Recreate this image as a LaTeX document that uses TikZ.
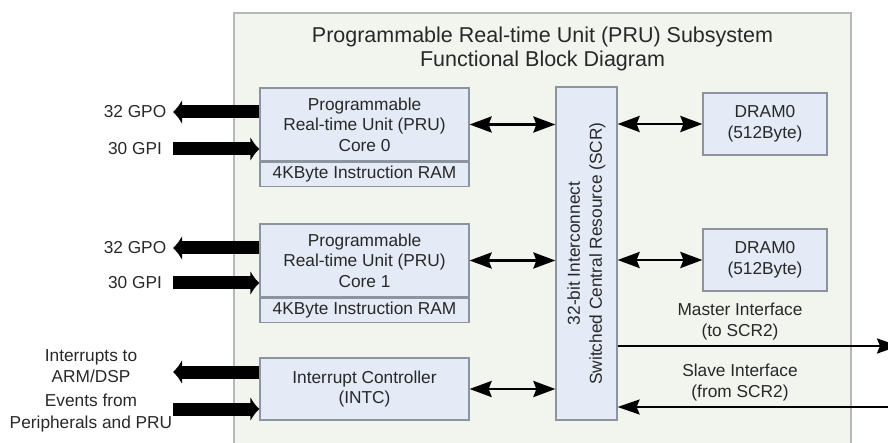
\documentclass[tikz,border=0pt]{standalone}
\usepackage{fontspec}
\setmainfont{Liberation Sans}
\usetikzlibrary{arrows.meta,positioning}
\definecolor{blockfill}{RGB}{228,234,246}
\definecolor{blockline}{RGB}{140,148,160}
\definecolor{subfill}{RGB}{242,244,238}
\definecolor{subline}{RGB}{182,184,182}
\definecolor{txt}{RGB}{40,40,40}
\tikzset{
  block/.style={draw=blockline, fill=blockfill, line width=1.2pt, inner sep=0pt, align=center, text=txt, font=\fontsize{17.3}{20.5}\selectfont},
  lbl/.style={align=center, text=txt, inner sep=0pt, font=\fontsize{17.3}{21.5}\selectfont},
  biarrow/.style={{Stealth[length=22pt,width=16pt,inset=3pt]}-{Stealth[length=22pt,width=16pt,inset=3pt]}, line width=2.8pt},
  busarrow/.style={-{Stealth[length=22pt,width=15pt,inset=3pt]}, line width=2.2pt},
  fatarrow/.style={-{Latex[length=9pt,width=25pt]}, line width=13pt},
}

\begin{document}
\begin{tikzpicture}[x=1pt,y=-1pt]
    \useasboundingbox (0,0) rectangle (888,443);
    \clip (0,0) rectangle (888,443);
    % subsystem frame
    \draw[draw=subline, fill=subfill, line width=1.3pt] (234,13) rectangle (851,470);
    \node[lbl, font=\fontsize{21.5}{24}\selectfont] (title) at (542.5,49) {Programmable Real-time Unit (PRU) Subsystem\\Functional Block Diagram};

    % PRU cores and interrupt controller
    \node[block, minimum width=209pt, minimum height=73pt] (core0) at (364.5,124.5) {Programmable\\Real-time Unit (PRU)\\Core 0};
    \node[block, minimum width=209pt, minimum height=24pt, below=0pt of core0] (ram0) {4KByte Instruction RAM};
    \node[block, minimum width=209pt, minimum height=73pt] (core1) at (364.5,260.5) {Programmable\\Real-time Unit (PRU)\\Core 1};
    \node[block, minimum width=209pt, minimum height=24pt, below=0pt of core1] (ram1) {4KByte Instruction RAM};
    \node[block, minimum width=209pt, minimum height=62pt] (intc) at (364.5,389) {Interrupt Controller\\(INTC)};

    % switched central resource
    \node[block, minimum width=61pt, minimum height=333pt] (scr) at (586.5,253.5) {};
    \node[lbl, rotate=90, font=\fontsize{17.3}{22}\selectfont] (scrtext) at (scr.center) {32-bit Interconnect\\Switched Central Resource (SCR)};

    % data RAMs
    \node[block, minimum width=124pt, minimum height=62pt] (dram0) at (765,124) {DRAM0\\(512Byte)};
    \node[block, minimum width=124pt, minimum height=62pt] (dram1) at (765,260) {DRAM0\\(512Byte)};

    \draw[biarrow] (core0.east) -- (core0.east -| scr.west);
    \draw[biarrow] (core1.east) -- (core1.east -| scr.west);
    \draw[biarrow] (intc.east) -- (intc.east -| scr.west);
    \draw[biarrow] (scr.east |- dram0.west) -- (dram0.west);
    \draw[biarrow] (scr.east |- dram1.west) -- (dram1.west);

    % SCR2 interfaces
    \coordinate (mst) at (899,346);
    \coordinate (slv) at (899,407);
    \draw[busarrow] (scr.east |- mst) -- (mst);
    \draw[busarrow] (slv) -- (slv -| scr.east);
    \node[lbl] (mstlbl) at (740,321.5) {Master Interface\\(to SCR2)};
    \node[lbl] (slvlbl) at (740,382.5) {Slave Interface\\(from SCR2)};

    % external pins
    \coordinate (gpo0) at (173,112);
    \coordinate (gpi0) at (173,149);
    \coordinate (gpo1) at (173,248);
    \coordinate (gpi1) at (173,283);
    \coordinate (irq) at (173,372);
    \coordinate (evt) at (173,409);
    \draw[fatarrow] (core0.west |- gpo0) -- (gpo0);
    \draw[fatarrow] (gpi0) -- (gpi0 -| core0.west);
    \draw[fatarrow] (core1.west |- gpo1) -- (gpo1);
    \draw[fatarrow] (gpi1) -- (gpi1 -| core1.west);
    \draw[fatarrow] (intc.west |- irq) -- (irq);
    \draw[fatarrow] (evt) -- (evt -| intc.west);
    \node[lbl] (gpo0lbl) at (135,112) {32 GPO};
    \node[lbl] (gpi0lbl) at (135,149) {30 GPI};
    \node[lbl] (gpo1lbl) at (135,248) {32 GPO};
    \node[lbl] (gpi1lbl) at (135,283) {30 GPI};
    \node[lbl] (irqlbl) at (91,366) {Interrupts to\\ARM/DSP};
    \node[lbl] (evtlbl) at (91,413) {Events from\\Peripherals and PRU};
\end{tikzpicture}
\end{document}
